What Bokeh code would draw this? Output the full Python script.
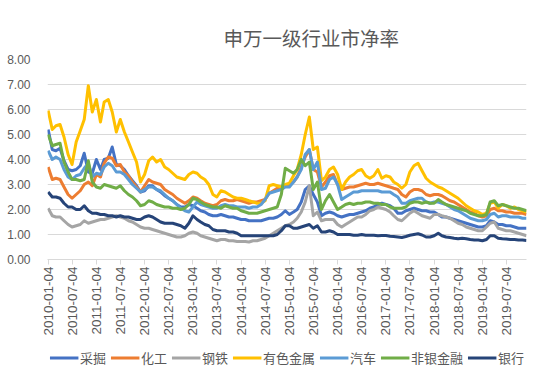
import math
from datetime import datetime
from bokeh.plotting import figure
from bokeh.layouts import column
from bokeh.models import (Range1d, FixedTicker, DatetimeTickFormatter, NumeralTickFormatter,
                          Legend, LegendItem)
from bokeh.embed import file_html
from bokeh.resources import INLINE

# ---- data (monthly readings, 2010-01 .. 2019-12) ----
start_year = 2010
n_months = 120
dates = [datetime(start_year + i // 12, i % 12 + 1, 4) for i in range(n_months)]

caijue = [5.2, 4.4, 4.35, 4.45, 3.95, 3.6, 3.55, 3.6, 3.75, 4.25, 3.5, 3.45,
          4.0, 3.6, 4.0, 4.05, 4.5, 3.8, 3.75, 3.6, 3.35, 3.15, 2.95, 2.7,
          2.75, 2.95, 2.95, 2.8, 2.7, 2.55, 2.45, 2.35, 2.2, 2.1, 2.1, 2.2,
          2.15, 2.05, 1.95, 1.9, 1.8, 1.75, 1.75, 1.8, 1.75, 1.7, 1.7, 1.65,
          1.6, 1.6, 1.55, 1.55, 1.55, 1.55, 1.6, 1.65, 1.65, 1.7, 1.8, 1.95,
          1.8, 1.9, 2.0, 2.3, 2.8, 2.95, 2.6, 2.3, 1.75, 1.85, 1.9, 1.85,
          1.75, 1.7, 1.75, 1.8, 1.8, 1.85, 1.9, 1.95, 2.05, 2.1, 2.2, 2.25,
          2.2, 2.15, 2.05, 1.85, 1.85, 1.95, 2.0, 2.05, 2.0, 1.95, 1.95, 1.9,
          1.9, 1.8, 1.7, 1.7, 1.65, 1.6, 1.55, 1.5, 1.45, 1.4, 1.35, 1.3,
          1.3, 1.35, 1.55, 1.5, 1.4, 1.4, 1.35, 1.35, 1.3, 1.25, 1.25, 1.25]

huagong = [3.7, 3.2, 3.25, 3.2, 2.9, 2.6, 2.45, 2.6, 2.75, 3.0, 3.1, 2.95,
           3.4, 3.3, 3.85, 4.1, 4.05, 3.75, 3.8, 3.5, 3.35, 3.1, 2.9, 2.7,
           2.95, 3.2, 3.1, 3.05, 3.0, 2.8, 2.7, 2.6, 2.45, 2.35, 2.25, 2.35,
           2.5, 2.45, 2.35, 2.25, 2.2, 2.15, 2.2, 2.35, 2.4, 2.35, 2.35, 2.4,
           2.35, 2.3, 2.25, 2.3, 2.3, 2.35, 2.4, 2.65, 2.75, 2.85, 2.9, 2.95,
           3.0, 3.1, 3.3, 3.7, 4.1, 4.4, 3.6, 3.5, 2.9, 3.1, 3.35, 3.4,
           3.0, 2.8, 2.85, 2.9, 2.9, 2.95, 3.0, 3.05, 3.0, 3.0, 3.05, 3.0,
           2.95, 2.9, 2.85, 2.8, 2.6, 2.5, 2.7, 2.8, 2.8, 2.75, 2.6, 2.55,
           2.6, 2.6, 2.55, 2.45, 2.35, 2.3, 2.2, 2.1, 2.0, 1.9, 1.85, 1.75,
           1.7, 1.75, 2.0, 2.05, 1.95, 1.95, 1.9, 1.9, 1.85, 1.85, 1.85, 1.8]

gangtie = [2.05, 1.75, 1.7, 1.7, 1.55, 1.4, 1.3, 1.35, 1.4, 1.55, 1.45, 1.5,
           1.55, 1.6, 1.6, 1.65, 1.7, 1.75, 1.7, 1.65, 1.55, 1.5, 1.4, 1.3,
           1.25, 1.25, 1.2, 1.15, 1.1, 1.05, 1.0, 0.95, 0.9, 0.9, 0.95, 1.05,
           1.1, 1.05, 0.95, 0.9, 0.85, 0.8, 0.75, 0.8, 0.8, 0.75, 0.75, 0.72,
           0.72, 0.72, 0.7, 0.75, 0.75, 0.8, 0.85, 0.95, 1.05, 1.15, 1.25, 1.35,
           1.4, 1.5, 1.65, 1.9, 2.3, 2.95, 1.75, 1.9, 1.55, 1.6, 1.6, 1.6,
           1.4, 1.3, 1.4, 1.5, 1.6, 1.7, 1.7, 1.8, 1.95, 2.0, 2.1, 2.05,
           2.0, 1.9, 1.75, 1.6, 1.55, 1.7, 1.85, 1.95, 1.85, 1.75, 1.7, 1.65,
           1.8, 1.8, 1.75, 1.7, 1.65, 1.55, 1.45, 1.4, 1.3, 1.25, 1.2, 1.15,
           1.15, 1.3, 1.45, 1.5, 1.25, 1.2, 1.15, 1.15, 1.1, 1.05, 1.0, 0.95]

yousejinshu = [5.96, 5.2, 5.35, 5.4, 4.9, 4.2, 3.8, 4.7, 5.15, 5.6, 6.95, 5.9,
               6.4, 5.5, 6.3, 6.4, 5.9, 5.1, 5.6, 5.1, 4.7, 4.3, 3.9, 3.1,
               3.4, 3.95, 4.1, 3.9, 4.0, 3.7, 3.6, 3.45, 3.3, 3.25, 3.2, 3.4,
               3.5, 3.45, 3.3, 3.2, 3.0, 2.6, 2.5, 2.75, 2.7, 2.6, 2.5, 2.45,
               2.45, 2.4, 2.35, 2.3, 2.25, 2.25, 2.35, 2.95, 3.0, 2.95, 2.9, 3.0,
               3.05, 3.35, 3.6, 4.2, 5.0, 5.7, 4.4, 4.5, 3.15, 3.3, 3.6, 3.7,
               3.4, 2.8, 3.1, 3.3, 3.4, 3.55, 3.6, 3.35, 3.25, 3.35, 3.6, 3.25,
               3.35, 3.3, 3.1, 3.0, 2.85, 3.0, 3.5, 3.75, 3.85, 3.55, 3.25, 3.1,
               3.0, 2.9, 2.85, 2.75, 2.65, 2.55, 2.45, 2.3, 2.15, 2.05, 1.95, 1.9,
               1.8, 1.85, 2.25, 2.3, 2.05, 2.2, 2.15, 2.05, 2.1, 2.0, 1.95, 1.9]

qiche = [4.35, 4.0, 4.1, 4.0, 3.6, 3.3, 3.2, 3.35, 3.4, 3.65, 3.85, 3.3,
         3.45, 3.4, 3.7, 3.85, 3.75, 3.5, 3.5, 3.4, 3.2, 3.0, 2.85, 2.7,
         2.8, 2.9, 2.9, 2.8, 2.75, 2.6, 2.45, 2.35, 2.2, 2.05, 1.95, 1.9,
         2.1, 2.3, 2.2, 2.15, 2.1, 2.05, 2.05, 2.15, 2.2, 2.15, 2.15, 2.1,
         2.1, 2.1, 2.05, 2.1, 2.1, 2.2, 2.4, 2.65, 2.7, 2.75, 2.8, 2.9,
         2.9, 3.1, 3.3, 3.6, 4.2, 4.4, 3.6, 3.9, 2.8, 2.85, 3.2, 3.3,
         3.0, 2.4, 2.5, 2.6, 2.7, 2.7, 2.75, 2.75, 2.75, 2.75, 2.75, 2.7,
         2.7, 2.7, 2.6, 2.5, 2.25, 2.25, 2.35, 2.4, 2.45, 2.45, 2.3, 2.25,
         2.3, 2.3, 2.25, 2.2, 2.1, 2.0, 1.95, 1.85, 1.75, 1.65, 1.6, 1.55,
         1.55, 1.6, 1.8, 1.85, 1.7, 1.75, 1.75, 1.7, 1.7, 1.7, 1.65, 1.65]

feiyinjinrong = [5.0, 4.55, 4.6, 4.65, 3.9, 3.5, 3.2, 3.2, 3.15, 3.2, 3.95, 3.1,
                 2.9, 2.85, 3.0, 2.95, 2.9, 2.85, 2.95, 2.75, 2.6, 2.5, 2.35, 2.15,
                 2.2, 2.35, 2.3, 2.2, 2.15, 2.1, 2.1, 2.05, 2.05, 2.0, 2.05, 2.2,
                 2.45, 2.4, 2.3, 2.2, 2.15, 2.1, 2.1, 2.05, 2.15, 2.1, 2.05, 2.05,
                 1.95, 1.9, 1.85, 1.85, 1.85, 1.9, 1.95, 2.0, 2.05, 2.1, 2.6, 3.65,
                 3.55, 3.45, 3.6, 4.0, 3.75, 3.9, 2.8, 3.1, 2.0, 2.35, 2.6, 2.3,
                 2.0, 2.1, 2.2, 2.25, 2.2, 2.25, 2.25, 2.3, 2.3, 2.25, 2.25, 2.2,
                 2.2, 2.1, 2.05, 2.05, 2.05, 2.1, 2.25, 2.3, 2.3, 2.25, 2.3, 2.25,
                 2.25, 2.4, 2.3, 2.2, 2.15, 2.1, 2.05, 2.0, 1.95, 1.85, 1.8, 1.75,
                 1.75, 1.8, 2.3, 2.35, 2.15, 2.2, 2.15, 2.1, 2.05, 2.05, 2.0, 1.95]

yinhang = [2.7, 2.5, 2.5, 2.45, 2.25, 2.1, 2.1, 2.0, 2.0, 2.15, 1.95, 1.85,
           1.85, 1.8, 1.8, 1.75, 1.75, 1.7, 1.75, 1.7, 1.7, 1.65, 1.6, 1.6,
           1.7, 1.75, 1.7, 1.6, 1.5, 1.45, 1.45, 1.45, 1.4, 1.35, 1.25, 1.45,
           1.75, 1.6, 1.5, 1.4, 1.35, 1.2, 1.15, 1.15, 1.15, 1.1, 1.1, 1.05,
           0.95, 0.95, 0.95, 0.95, 0.95, 0.95, 0.95, 0.95, 0.95, 1.0, 1.15, 1.35,
           1.35, 1.25, 1.25, 1.3, 1.35, 1.4, 1.25, 1.35, 1.1, 1.1, 1.15, 1.1,
           1.0, 1.0, 1.0, 1.0, 0.97, 0.97, 1.0, 0.97, 0.97, 0.97, 0.95, 0.96,
           0.96, 0.93, 0.92, 0.9, 0.88, 0.92, 0.97, 1.0, 1.03, 0.98, 0.9, 0.9,
           0.95, 1.05, 0.95, 0.9, 0.88, 0.85, 0.83, 0.85, 0.83, 0.8, 0.78, 0.78,
           0.75, 0.8, 0.95, 0.95, 0.85, 0.83, 0.82, 0.8, 0.8, 0.78, 0.78, 0.76]

series_names = ["采掘", "化工", "钢铁", "有色金属", "汽车", "非银金融", "银行"]
series_values = [caijue, huagong, gangtie, yousejinshu, qiche, feiyinjinrong, yinhang]
series_colors = ["#4472C4", "#ED7D31", "#A5A5A5", "#FFC000", "#5B9BD5", "#70AD47", "#264478"]

x_tick_labels = ["2010-01-04", "2010-07-04", "2011-01-04", "2011-07-04", "2012-01-04",
                 "2012-07-04", "2013-01-04", "2013-07-04", "2014-01-04", "2014-07-04",
                 "2015-01-04", "2015-07-04", "2016-01-04", "2016-07-04", "2017-01-04",
                 "2017-07-04", "2018-01-04", "2018-07-04", "2019-01-04", "2019-07-04"]
y_ticks = [0, 1, 2, 3, 4, 5, 6, 7, 8]

title_text = "申万一级行业市净率"

# ---- main figure ----
GRID = "#D9D9D9"
TXT = "#595959"

p = figure(frame_width=479, frame_height=200, x_axis_type="datetime", output_backend="svg",
           toolbar_location=None,
           x_range=Range1d(datetime(2009, 12, 30), datetime(2019, 12, 4)),
           y_range=Range1d(0, 8),
           min_border_left=47, min_border_right=16, min_border_top=59, min_border_bottom=85)
p.outline_line_color = None
p.background_fill_color = "white"
p.border_fill_color = "white"

p.title.text = title_text
p.title.align = "left"
p.title.offset = 176
p.title.text_font = "Noto Sans CJK SC"
p.title.text_font_size = "19.5px"
p.title.text_font_style = "normal"
p.title.text_color = TXT
p.title.standoff = 16

for name, vals, col in zip(series_names, series_values, series_colors):
    p.line(dates, vals, line_color=col, line_width=3, line_join="round")

tick_ms = [(datetime.strptime(s, "%Y-%m-%d") - datetime(1970, 1, 1)).total_seconds() * 1000
           for s in x_tick_labels]
xa = p.xaxis[0]
xa.ticker = FixedTicker(ticks=tick_ms)
fmt = "%Y-%m-%d"
xa.formatter = DatetimeTickFormatter(microseconds=fmt, milliseconds=fmt, seconds=fmt, minsec=fmt,
                                     minutes=fmt, hourmin=fmt, hours=fmt, days=fmt,
                                     months=fmt, years=fmt)
xa.major_label_orientation = math.pi / 2
xa.major_label_text_font = "Liberation Sans"
xa.major_label_text_font_size = "13.5px"
xa.major_label_text_color = TXT
xa.major_label_standoff = 2
xa.axis_line_color = GRID
xa.major_tick_line_color = GRID
xa.major_tick_out = 5
xa.major_tick_in = 0
xa.minor_tick_line_color = None

ya = p.yaxis[0]
ya.ticker = FixedTicker(ticks=y_ticks)
ya.formatter = NumeralTickFormatter(format="0.00")
ya.axis_line_color = None
ya.major_tick_line_color = None
ya.minor_tick_line_color = None
ya.major_label_text_font = "Liberation Sans"
ya.major_label_text_font_size = "12px"
ya.major_label_text_color = TXT
ya.major_label_standoff = 11

p.xgrid.grid_line_color = None
p.ygrid.grid_line_color = GRID
p.ygrid.grid_line_width = 1

# ---- legend strip (its own small figure; the series lines sit outside its view) ----
lf = figure(width=542, height=26, x_axis_location=None, y_axis_location=None,
            output_backend="svg", toolbar_location=None, title=None,
            x_range=Range1d(datetime(2009, 12, 30), datetime(2019, 12, 4)),
            y_range=Range1d(100, 101),
            min_border_left=0, min_border_right=0, min_border_top=0, min_border_bottom=0)
lf.outline_line_color = None
lf.background_fill_color = "white"
lf.border_fill_color = "white"
lf.grid.visible = False

leg_renderers = []
for name, vals, col in zip(series_names, series_values, series_colors):
    leg_renderers.append(lf.line(dates, vals, line_color=col, line_width=3))

legend = Legend(items=[LegendItem(label=n, renderers=[r]) for n, r in zip(series_names, leg_renderers)],
                orientation="horizontal", location="center",
                glyph_width=29, glyph_height=16, label_standoff=2, spacing=4,
                padding=0, margin=0, border_line_color=None, background_fill_alpha=0,
                label_text_font="Noto Sans CJK SC", label_text_font_size="13px",
                label_text_color=TXT, label_height=16)
lf.add_layout(legend, "center")

layout = column(p, lf, spacing=0)

open("out.html", "w").write(file_html(layout, INLINE))
